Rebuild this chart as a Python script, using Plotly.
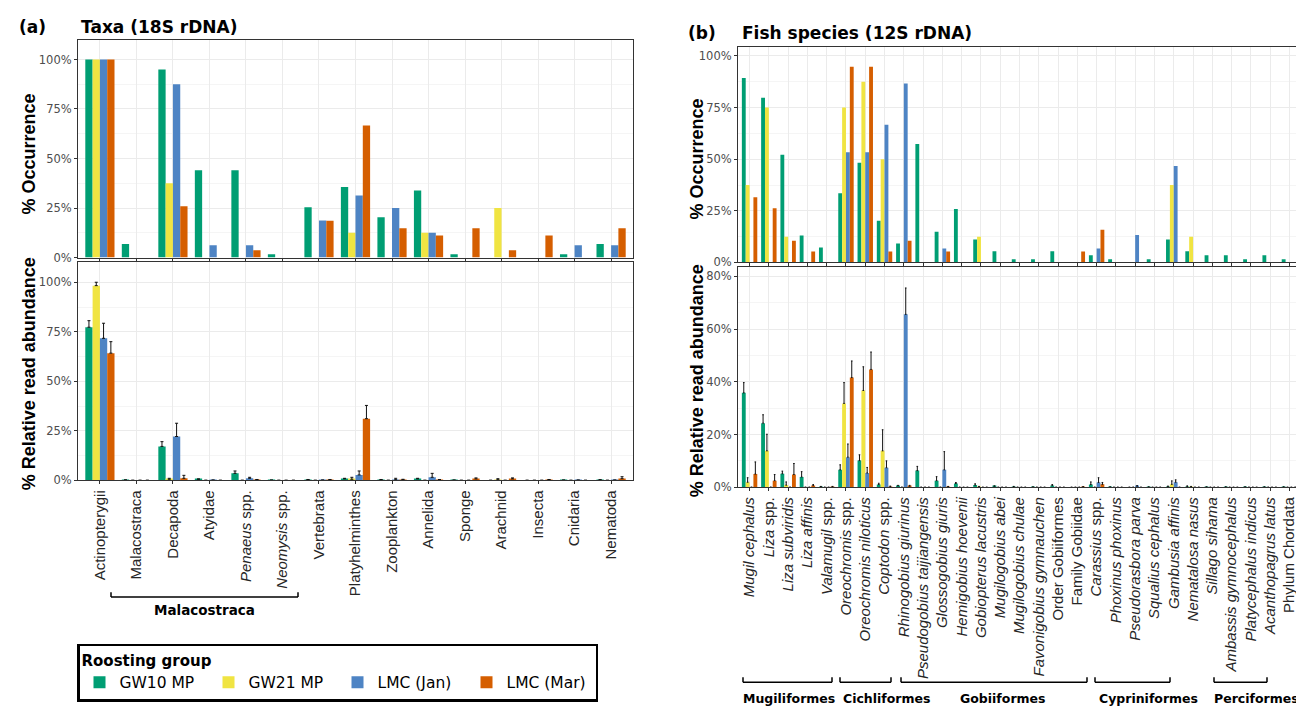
import plotly.graph_objects as go

W, H = 1304, 708


def fx(p):
    return p / W


def fy(p):
    return 1 - p / H


groups = ["GW10 MP", "GW21 MP", "LMC (Jan)", "LMC (Mar)"]
colors = ["#009E73", "#F0E442", "#4E84C4", "#D55E00"]

# ---------------- Panel (a): Taxa (18S rDNA) ----------------
taxa = ["Actinopterygii", "Malacostraca", "Decapoda", "Atyidae", "Penaeus spp.",
        "Neomysis spp.", "Vertebrata", "Platyhelminthes", "Zooplankton", "Annelida",
        "Sponge", "Arachnid", "Insecta", "Cnidaria", "Nematoda"]
taxa_ticktext = ["Actinopterygii", "Malacostraca", "Decapoda", "Atyidae", "<i>Penaeus</i> spp.",
                 "<i>Neomysis</i> spp.", "Vertebrata", "Platyhelminthes", "Zooplankton", "Annelida",
                 "Sponge", "Arachnid", "Insecta", "Cnidaria", "Nematoda"]

occ_a_gw10 = [100, 6.8, 94.9, 44.1, 44.1, 1.7, 25.4, 35.6, 20.3, 33.9, 1.7, 0, 0, 1.7, 6.8]
occ_a_gw21 = [100, 0, 37.5, 0, 0, 0, 0, 12.5, 0, 12.5, 0, 25.0, 0, 0, 0]
occ_a_jan = [100, 0, 87.5, 6.25, 6.25, 0, 18.75, 31.25, 25.0, 12.5, 0, 0, 0, 6.25, 6.25]
occ_a_mar = [100, 0, 25.9, 0, 3.7, 0, 18.5, 66.7, 14.8, 11.1, 14.8, 3.7, 11.1, 0, 14.8]

ra_a_gw10 = [77.3, 0.1, 17.1, 0.5, 3.5, 0.1, 0.3, 0.7, 0.3, 0.7, 0.1, 0, 0, 0.1, 0.2]
se_a_gw10 = [3.3, 0.1, 2.4, 0.2, 1.2, 0, 0.1, 0.3, 0.1, 0.3, 0, 0, 0, 0, 0.1]
ra_a_gw21 = [98.3, 0, 0.5, 0, 0, 0, 0, 0.5, 0, 0, 0, 0.3, 0, 0, 0]
se_a_gw21 = [1.7, 0, 0.5, 0, 0, 0, 0, 1.0, 0, 0, 0, 0.5, 0, 0, 0]
ra_a_jan = [71.7, 0, 22.1, 0.1, 1.0, 0, 0.1, 2.7, 0.3, 1.5, 0, 0, 0, 0.1, 0.1]
se_a_jan = [7.6, 0, 6.7, 0, 0.5, 0, 0, 2.0, 0.7, 2.0, 0, 0, 0, 0, 0]
ra_a_mar = [64.2, 0, 1.0, 0, 0.3, 0, 0.3, 31.1, 0.3, 0.3, 0.7, 0.7, 0.3, 0, 0.8]
se_a_mar = [5.8, 0, 1.5, 0, 0.1, 0, 0.1, 6.7, 0.2, 0.1, 0.5, 0.5, 0.1, 0, 1.0]

# ---------------- Panel (b): Fish species (12S rDNA) ----------------
fish = ["Mugil cephalus", "Liza spp.", "Liza subviridis", "Liza affinis", "Valamugil spp.",
        "Oreochromis spp.", "Oreochromis niloticus", "Coptodon spp.", "Rhinogobius giurinus",
        "Pseudogobius taijiangensis", "Glossogobius giuris", "Hemigobius hoevenii",
        "Gobiopterus lacustris", "Mugilogobius abei", "Mugilogobius chulae",
        "Favonigobius gymnauchen", "Order Gobiiformes", "Family Gobiidae", "Carassius spp.",
        "Phoxinus phoxinus", "Pseudorasbora parva", "Squalius cephalus", "Gambusia affinis",
        "Nematalosa nasus", "Sillago sihama", "Ambassis gymnocephalus", "Platycephalus indicus",
        "Acanthopagrus latus", "Phylum Chordata"]
fish_ticktext = ["<i>Mugil cephalus</i>", "<i>Liza</i> spp.", "<i>Liza subviridis</i>",
                 "<i>Liza affinis</i>", "<i>Valamugil</i> spp.", "<i>Oreochromis</i> spp.",
                 "<i>Oreochromis niloticus</i>", "<i>Coptodon</i> spp.", "<i>Rhinogobius giurinus</i>",
                 "<i>Pseudogobius taijiangensis</i>", "<i>Glossogobius giuris</i>",
                 "<i>Hemigobius hoevenii</i>", "<i>Gobiopterus lacustris</i>",
                 "<i>Mugilogobius abei</i>", "<i>Mugilogobius chulae</i>",
                 "<i>Favonigobius gymnauchen</i>", "Order Gobiiformes", "Family Gobiidae",
                 "<i>Carassius</i> spp.", "<i>Phoxinus phoxinus</i>", "<i>Pseudorasbora parva</i>",
                 "<i>Squalius cephalus</i>", "<i>Gambusia affinis</i>", "<i>Nematalosa nasus</i>",
                 "<i>Sillago sihama</i>", "<i>Ambassis gymnocephalus</i>",
                 "<i>Platycephalus indicus</i>", "<i>Acanthopagrus latus</i>", "Phylum Chordata"]

occ_b_gw10 = [89.3, 79.8, 52.1, 13.0, 7.3, 33.5, 48.3, 20.2, 9.2, 57.4, 14.9, 25.9, 11.1, 5.4,
              1.6, 1.6, 5.4, 0, 3.5, 1.6, 0, 1.6, 11.1, 5.4, 3.5, 3.5, 1.6, 3.5, 1.6]
occ_b_gw21 = [37.5, 75.0, 12.5, 0, 0, 75.0, 87.5, 50.0, 0, 0, 0, 0, 12.5, 0,
              0, 0, 0, 0, 0, 0, 0, 0, 37.5, 12.5, 0, 0, 0, 0, 0]
occ_b_jan = [0, 0, 0, 0, 0, 53.3, 53.3, 66.7, 86.7, 0, 6.7, 0, 0, 0,
             0, 0, 0, 0, 6.7, 0, 13.3, 0, 46.7, 0, 0, 0, 0, 0, 0]
occ_b_mar = [31.6, 26.3, 10.5, 5.3, 0, 94.7, 94.7, 5.3, 10.5, 0, 5.3, 0, 0, 0,
             0, 0, 0, 5.3, 15.8, 0, 0, 0, 0, 0, 0, 0, 0, 0, 0]

ra_b_gw10 = [35.8, 24.3, 5.1, 3.9, 0.2, 6.6, 10.1, 1.0, 0.5, 6.3, 2.5, 1.4, 0.8, 0.4,
             0.2, 0.1, 0.6, 0, 1.0, 0.1, 0, 0.1, 0.3, 0.3, 0.1, 0.1, 0.1, 0.1, 0.1]
se_b_gw10 = [3.9, 3.2, 1.0, 2.0, 0.1, 1.9, 2.2, 0.5, 0.2, 1.6, 1.5, 0.4, 0.5, 0.1,
             0.1, 0, 0.4, 0, 1.0, 0, 0, 0, 0.1, 0.2, 0, 0, 0, 0, 0]
ra_b_gw21 = [1.9, 13.8, 0.8, 0, 0, 31.8, 36.7, 13.8, 0, 0, 0, 0, 0.2, 0,
             0, 0, 0, 0, 0, 0, 0, 0, 1.1, 0.2, 0, 0, 0, 0, 0]
se_b_gw21 = [1.7, 6.3, 1.2, 0, 0, 7.9, 9.0, 8.0, 0, 0, 0, 0, 0.1, 0,
             0, 0, 0, 0, 0, 0, 0, 0, 1.3, 0.1, 0, 0, 0, 0, 0]
ra_b_jan = [0, 0, 0, 0, 0, 11.4, 5.4, 7.4, 65.6, 0, 6.6, 0, 0, 0,
            0, 0, 0, 0, 1.8, 0, 0.4, 0, 1.9, 0, 0, 0, 0, 0, 0]
se_b_jan = [0, 0, 0, 0, 0, 5.0, 2.1, 2.6, 10.0, 0, 6.9, 0, 0, 0,
            0, 0, 0, 0, 1.8, 0, 0.2, 0, 0.9, 0, 0, 0, 0, 0, 0]
ra_b_mar = [5.0, 2.5, 4.8, 0.6, 0.2, 41.6, 44.7, 0.3, 0.4, 0, 0.2, 0, 0, 0,
            0, 0, 0, 0.1, 1.1, 0, 0, 0, 0, 0, 0, 0, 0, 0, 0]
se_b_mar = [4.6, 2.3, 4.2, 0.4, 0.1, 6.3, 6.6, 0.1, 0.3, 0, 0.1, 0, 0, 0,
            0, 0, 0, 0.1, 0.7, 0, 0, 0, 0, 0, 0, 0, 0, 0, 0]

fig = go.Figure()


def add_bars(xa, ya, cats, vals, errs=None, showlegend=False, capw=1.2):
    for i, (g, c) in enumerate(zip(groups, colors)):
        kw = {}
        if errs is not None:
            kw["error_y"] = dict(type="data", symmetric=False, array=errs[i],
                                 arrayminus=[0] * len(cats), thickness=1,
                                 width=capw, color="#111111")
        fig.add_trace(go.Bar(x=cats, y=vals[i], name=g, xaxis=xa, yaxis=ya,
                             marker=dict(color=c, line=dict(width=0)),
                             showlegend=showlegend, legendgroup=g, **kw))


add_bars("x", "y", taxa, [occ_a_gw10, occ_a_gw21, occ_a_jan, occ_a_mar], showlegend=True)
add_bars("x2", "y2", taxa, [ra_a_gw10, ra_a_gw21, ra_a_jan, ra_a_mar],
         [se_a_gw10, se_a_gw21, se_a_jan, se_a_mar], capw=1.5)
add_bars("x3", "y3", fish, [occ_b_gw10, occ_b_gw21, occ_b_jan, occ_b_mar])
add_bars("x4", "y4", fish, [ra_b_gw10, ra_b_gw21, ra_b_jan, ra_b_mar],
         [se_b_gw10, se_b_gw21, se_b_jan, se_b_mar], capw=0.8)

BORDER = "#333333"
GRID = "#EBEBEB"
MINOR = "#F5F5F5"
TICKFONT = dict(family="DejaVu Sans", size=11.5, color="#4D4D4D")
XLABFONT = dict(family="Liberation Sans", size=15, color="#262626")


def xaxis_cfg(dom, anchor, cats, ticktext=None, labels=False):
    d = dict(domain=dom, anchor=anchor, type="category", range=[-0.6, len(cats) - 0.4],
             tickmode="array", tickvals=cats, ticks="outside", ticklen=3, tickwidth=1,
             tickcolor=BORDER, showline=True, mirror=True, linecolor=BORDER, linewidth=1,
             showgrid=True, gridcolor=GRID, gridwidth=1, zeroline=False, fixedrange=True)
    if labels:
        d.update(ticktext=ticktext, tickangle=-90, tickfont=XLABFONT, showticklabels=True)
    else:
        d.update(showticklabels=False)
    return d


def yaxis_cfg(dom, anchor, rng, vals, minors):
    return dict(domain=dom, anchor=anchor, range=rng, tickmode="array", tickvals=vals,
                ticktext=[f"{v:g}%" for v in vals], ticks="outside", ticklen=3, tickwidth=1,
                tickcolor=BORDER, tickfont=TICKFONT, showline=True, mirror=True,
                linecolor=BORDER, linewidth=1, showgrid=True, gridcolor=GRID, gridwidth=1,
                zeroline=False, fixedrange=True,
                minor=dict(tickvals=minors, showgrid=True, gridcolor=MINOR, gridwidth=1, ticks=""))


xa_dom = [fx(70), fx(625)]
xb_dom = [fx(730), fx(1293)]

fig.update_layout(
    width=W, height=H, autosize=False,
    margin=dict(l=0, r=0, t=0, b=0),
    paper_bgcolor="white", plot_bgcolor="white",
    barmode="group", bargap=0.2, bargroupgap=0,
    xaxis=xaxis_cfg(xa_dom, "y", taxa),
    yaxis=yaxis_cfg([fy(252), fy(32)], "x", [0, 110], [0, 25, 50, 75, 100], [12.5, 37.5, 62.5, 87.5]),
    xaxis2=xaxis_cfg(xa_dom, "y2", taxa, taxa_ticktext, labels=True),
    yaxis2=yaxis_cfg([fy(477), fy(257)], "x2", [0, 110], [0, 25, 50, 75, 100], [12.5, 37.5, 62.5, 87.5]),
    xaxis3=xaxis_cfg(xb_dom, "y3", fish),
    yaxis3=yaxis_cfg([fy(257), fy(39)], "x3", [0, 104.5], [0, 25, 50, 75, 100], [12.5, 37.5, 62.5, 87.5]),
    xaxis4=xaxis_cfg(xb_dom, "y4", fish, fish_ticktext, labels=True),
    yaxis4=yaxis_cfg([fy(484), fy(262)], "x4", [0, 83.4], [0, 20, 40, 60, 80], [10, 30, 50, 70]),
    showlegend=True,
    legend=dict(
        x=fx(69), y=fy(642), xanchor="left", yanchor="top", orientation="h",
        title=dict(text="<b>Roosting group</b>", side="top",
                   font=dict(family="DejaVu Sans", size=15, color="black")),
        font=dict(family="DejaVu Sans", size=15.5, color="black"),
        bordercolor="black", borderwidth=2.5, bgcolor="white",
        entrywidth=84, entrywidthmode="pixels", itemwidth=30,
        traceorder="normal", tracegroupgap=0,
    ),
)

anns = []


def ann(text, x, y, size, family="DejaVu Sans", xanchor="center", angle=0, color="black"):
    anns.append(dict(text=text, x=fx(x), y=fy(y), xref="paper", yref="paper",
                     xanchor=xanchor, yanchor="middle", showarrow=False, textangle=angle,
                     font=dict(family=family, size=size, color=color)))


ann("<b>(a)</b>", 9, 19, 17, xanchor="left")
ann("<b>Taxa (18S rDNA)</b>", 71, 19, 17, xanchor="left")
ann("<b>(b)</b>", 678, 25, 17, xanchor="left")
ann("<b>Fish species (12S rDNA)</b>", 732, 25, 17, xanchor="left")
ann("<b>% Occurrence</b>", 21, 148, 18, family="Liberation Sans", angle=-90)
ann("<b>% Relative read abundance</b>", 21, 370, 18, family="Liberation Sans", angle=-90)
ann("<b>% Occurrence</b>", 689, 153, 18, family="Liberation Sans", angle=-90)
ann("<b>% Relative read abundance</b>", 689, 377, 18, family="Liberation Sans", angle=-90)

# order / group brackets
shapes = []


def bracket(x0, x1, y, up=5):
    for (a, b, c, d) in [(x0, y, x1, y), (x0, y - up, x0, y), (x1, y - up, x1, y)]:
        shapes.append(dict(type="line", xref="paper", yref="paper", x0=fx(a), y0=fy(b),
                           x1=fx(c), y1=fy(d), line=dict(color="black", width=1.5)))


bracket(103, 290, 595)
ann("<b>Malacostraca</b>", 197, 608, 13.5)

orders = [("Mugiliformes", 735, 824, 781), ("Cichliformes", 832, 883, 878),
          ("Gobiiformes", 893, 1079, 995), ("Cypriniformes", 1087, 1162, 1140),
          ("Perciformes", 1206, 1259, 1248)]
for name, a, b, c in orders:
    bracket(a, b, 681)
    ann(f"<b>{name}</b>", c, 697, 12.5)

fig.update_layout(annotations=anns, shapes=shapes)

fig.write_html("out.html")
